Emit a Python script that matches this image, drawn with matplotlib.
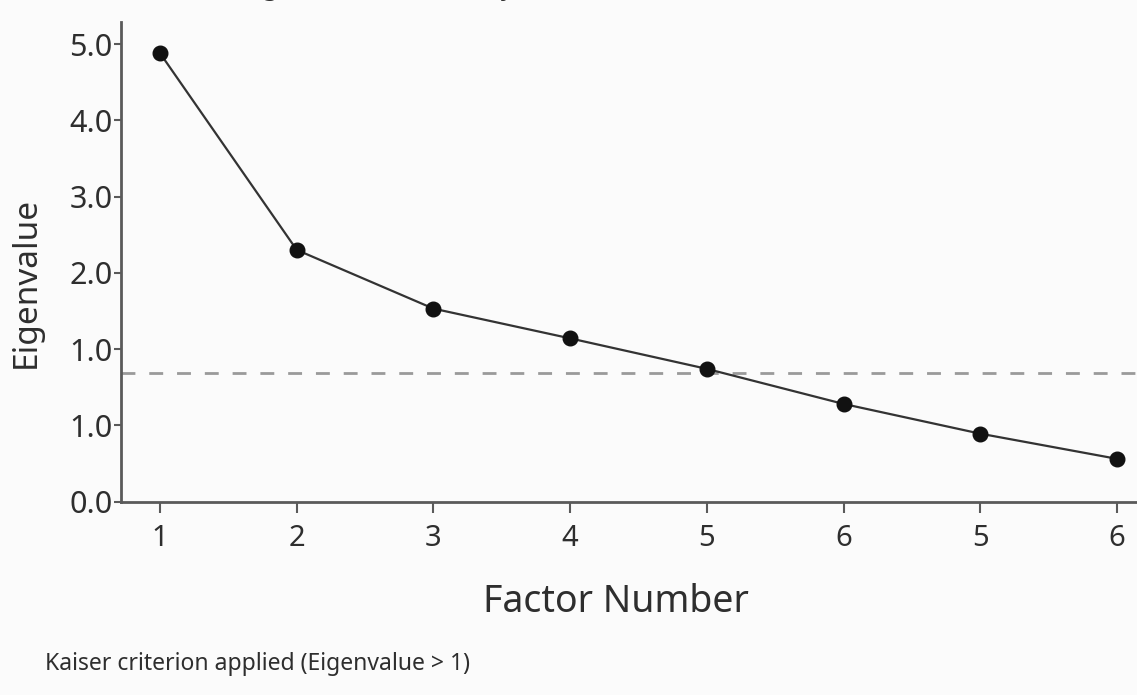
import matplotlib
matplotlib.use("Agg")
import matplotlib.pyplot as plt

# ---- data ----
factor_positions = [1, 2, 3, 4, 5, 6, 7, 8]
factor_labels = ["1", "2", "3", "4", "5", "6", "5", "6"]
eigenvalues = [5.88, 3.30, 2.53, 2.14, 1.74, 1.28, 0.89, 0.56]
y_tick_positions = [0, 1, 2, 3, 4, 5, 6]
y_tick_labels = ["0.0", "1.0", "1.0", "2.0", "3.0", "4.0", "5.0"]
cutoff_value = 1.69

title_text = "Scree Plot: Eigenvalues Sorted by Factor Number (Initial)"
x_label = "Factor Number"
y_label = "Eigenvalue"
note_text = "Kaiser criterion applied (Eigenvalue > 1)"

plt.rcParams["font.family"] = ["Noto Sans", "DejaVu Sans"]

W, H = 1137, 695
fig = plt.figure(figsize=(W / 100, H / 100), dpi=100)
bg = "#fbfbfb"
fig.patch.set_facecolor(bg)

left, right, bottom, top = 120.7 / W, 1.0, 1 - 501.5 / H, 1 - 22 / H
ax = fig.add_axes([left, bottom, right - left, top - bottom])
ax.set_facecolor(bg)

axis_col = "#5a5a5a"
txt_col = "#2e2e2e"
ax.axhline(cutoff_value, color="#9a9a9a", lw=2.0, ls=(0, (5, 5)), zorder=1)
ax.plot(factor_positions, eigenvalues, color="#333333", lw=1.6, zorder=2)
ax.plot(factor_positions, eigenvalues, ls="none", marker="o", ms=10.5,
        color="#111111", zorder=3)

ax.set_xlim(0.712, 8.147)
ax.set_ylim(0, 6.29)

for s in ["top", "right"]:
    ax.spines[s].set_visible(False)
for s in ["left", "bottom"]:
    ax.spines[s].set_color(axis_col)
    ax.spines[s].set_linewidth(2.0)

ax.set_yticks(y_tick_positions)
ax.set_yticklabels(y_tick_labels, fontsize=22, color=txt_col)
ax.set_xticks(factor_positions)
ax.set_xticklabels(factor_labels, fontsize=21, color=txt_col)
ax.tick_params(axis="y", direction="out", length=5, width=1.5, color=axis_col, pad=1)
ax.tick_params(axis="x", direction="out", length=8, width=1.5, color=axis_col, pad=8)

ax.set_ylabel(y_label, fontsize=24, color=txt_col)
ax.yaxis.set_label_coords(-0.0765, 0.456)

fig.text(616 / W, 1 - 602 / H, x_label, fontsize=27, color=txt_col,
         ha="center", va="center")
fig.text(45 / W, 1 - 664 / H, note_text, fontsize=16.5, color=txt_col,
         ha="left", va="center")
fig.text(104 / W, 1 + 6 / H, title_text, fontsize=19, color=txt_col,
         ha="left", va="baseline")

fig.savefig("out.png", dpi=100, facecolor=bg)
